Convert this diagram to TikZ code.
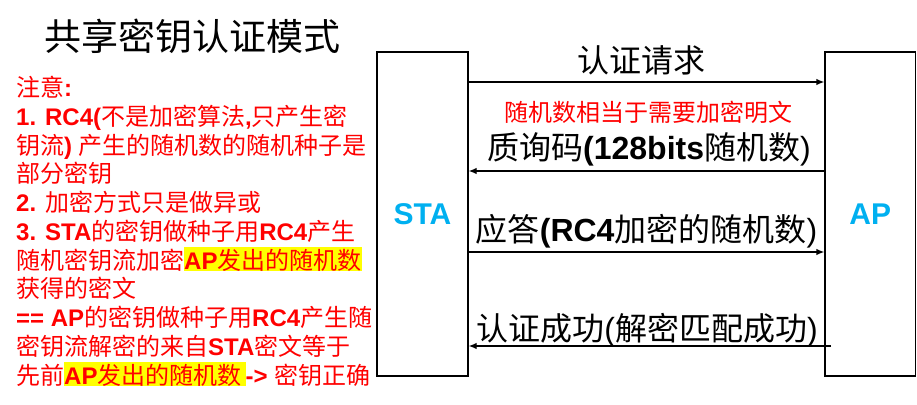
\documentclass[tikz,border=0pt]{standalone}
\usepackage{fontspec}
\setmainfont{Liberation Sans}
\newfontfamily\cjk{Noto Sans CJK SC}
\usetikzlibrary{arrows.meta}
\definecolor{myred}{RGB}{255,0,0}
\definecolor{mycyan}{RGB}{0,176,240}
\definecolor{myyellow}{RGB}{255,255,0}
\newcommand\zh[1]{{\cjk\mdseries #1}}
\newcommand\hlt[1]{{\setlength\fboxsep{0pt}\colorbox{myyellow}{\rule[-2pt]{0pt}{24pt}#1}}}
\begin{document}
\begin{tikzpicture}[x=1pt,y=-1pt,
  box/.style={draw=black,line width=1.3pt,fill=white,minimum height=324pt,inner sep=0pt,
    font=\fontsize{30}{30}\selectfont\bfseries,text=mycyan},
  arr/.style={line width=1.3pt,-{Latex[length=8pt,width=6.5pt]}},
  note/.style={anchor=base west,inner sep=0pt,text=myred,font=\fontsize{24}{24}\selectfont\bfseries},
  msg/.style={anchor=base,inner sep=0pt,text=black,font=\fontsize{32}{32}\selectfont},
]
\useasboundingbox (0,0) rectangle (917,404);
% title
\node[anchor=base,inner sep=0pt,font=\fontsize{37}{37}\selectfont\cjk] (title) at (192.5,50) {共享密钥认证模式};
% notes
\node[note] (n0) at (16,96.5) {\zh{注意}:};
\node[note] (n1) at (16,125.25) {1. RC4(\zh{不是加密算法},\zh{只产生密}};
\node[note] (n2) at (16,154) {\zh{钥流}) \zh{产生的随机数的随机种子是}};
\node[note] (n3) at (16,182.75) {\zh{部分密钥}};
\node[note] (n4) at (16,211.5) {2. \zh{加密方式只是做异或}};
\node[note] (n5) at (16,240.25) {3. STA\zh{的密钥做种子用}RC4\zh{产生}};
\node[note] (n6) at (16,269) {\zh{随机密钥流加密}\hlt{AP\zh{发出的随机数}}};
\node[note] (n7) at (16,297.75) {\zh{获得的密文}};
\node[note] (n8) at (16,326.5) {== AP\zh{的密钥做种子用}RC4\zh{产生随}};
\node[note] (n9) at (16,355.25) {\zh{密钥流解密的来自}STA\zh{密文等于}};
\node[note] (n10) at (16,384) {\zh{先前}\hlt{AP\zh{发出的随机数}\hspace{4pt}}-> \zh{密钥正确}};
% boxes
\node[box,minimum width=91pt] (sta) at (422.5,214) {STA};
\node[box,minimum width=90.5pt] (ap) at (870.25,214) {AP};
% messages
\coordinate (y1) at (0,82);
\coordinate (y2) at (0,171);
\coordinate (y3) at (0,252);
\coordinate (a4) at (831,346);
\node[msg] (m1) at (641,72) {\zh{认证请求}};
\node[anchor=base,inner sep=0pt,text=myred,font=\fontsize{24}{24}\selectfont] (m1n) at (648,121) {\zh{随机数相当于需要加密明文}};
\node[msg] (m2) at (649,159) {\zh{质询码}\textbf{(128bits}\zh{随机数})};
\node[msg] (m3) at (646.5,241) {\zh{应答}\textbf{(RC4}\zh{加密的随机数})};
\node[msg] (m4) at (647,340) {\zh{认证成功}(\zh{解密匹配成功})};
\draw[arr] (sta.east |- y1) -- (ap.west |- y1);
\draw[arr] (ap.west |- y2) -- (sta.east |- y2);
\draw[arr] (sta.east |- y3) -- (ap.west |- y3);
\draw[arr] (a4) -- (sta.east |- a4);
\end{tikzpicture}
\end{document}
